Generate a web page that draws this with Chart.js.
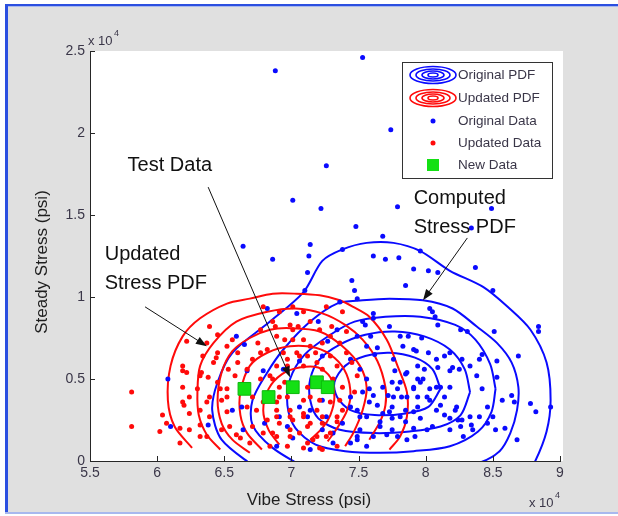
<!DOCTYPE html>
<html>
<head>
<meta charset="utf-8">
<title>Vibe vs Steady Stress</title>
<script src="https://cdn.jsdelivr.net/npm/chart.js@4.4.1/dist/chart.umd.min.js"></script>
<style>
	html, body { margin: 0; padding: 0; background: #ffffff; }
	canvas { display: block; }
</style>
</head>
<body>
<canvas id="stressChart" width="618" height="516"></canvas>
<script>
// both axes are in units of 1e4 psi
const xTicks = [5.5, 6, 6.5, 7, 7.5, 8, 8.5, 9];
const yTicks = [0, 0.5, 1, 1.5, 2, 2.5];

// [vibe, steady]
const originalData = [
	[6.88,2.38],[7.53,2.46],[7.74,2.02],[7.26,1.80],[7.97,1.74],[7.01,1.59],[7.22,1.54],[7.79,1.55],
	[8.49,1.54],[7.48,1.43],[7.68,1.37],[8.34,1.42],[6.64,1.31],[7.14,1.32],[6.86,1.23],[7.13,1.25],
	[7.12,1.15],[7.38,1.29],[7.61,1.25],[7.70,1.23],[7.80,1.24],[7.96,1.28],[7.91,1.17],[8.02,1.16],
	[8.09,1.15],[8.37,1.18],[7.45,1.10],[7.47,1.04],[7.85,1.07],[7.10,1.04],[7.49,0.99],[8.50,1.04],
	[7.36,0.97],[6.82,0.93],[7.20,0.85],[7.04,0.90],
	[8.03,0.93],[8.07,0.88],[8.09,0.83],[8.26,0.80],[8.31,0.79],[8.51,0.79],[8.84,0.82],[8.84,0.79],
	[7.61,0.87],[7.55,0.83],[7.73,0.82],[7.81,0.76],[7.87,0.76],[7.97,0.75],[7.59,0.76],[7.83,0.70],
	[7.93,0.67],[8.02,0.66],[8.14,0.64],[8.27,0.62],[8.42,0.65],[8.69,0.64],[8.53,0.61],[8.33,0.58],
	[8.38,0.52],[8.53,0.51],[8.42,0.44],[8.25,0.56],[8.18,0.55],[7.94,0.58],[7.99,0.56],[7.76,0.62],
	[7.62,0.65],[7.64,0.69],[8.57,0.37],[8.64,0.40],[8.66,0.36],[8.78,0.35],[8.82,0.30],[8.93,0.33],
	[8.50,0.27],[8.46,0.23],[8.34,0.22],[8.35,0.19],[8.52,0.19],[8.59,0.20],[8.68,0.13],[8.24,0.25],
	[8.22,0.31],[8.11,0.34],[8.03,0.37],[7.94,0.39],[7.91,0.45],[7.91,0.20],[8.01,0.19],[7.92,0.15],
	[7.86,0.13],[7.75,0.19],[7.66,0.24],[7.56,0.27],[7.73,0.30],[7.81,0.27],[7.82,0.39],[7.76,0.39],
	[7.75,0.48],[7.81,0.48],[7.68,0.45],[7.61,0.40],[7.53,0.42],[7.58,0.36],[7.64,0.34],[7.86,0.54],
	[7.98,0.50],[8.03,0.44],[8.01,0.39],[8.08,0.45],[8.14,0.39],[7.44,0.39],[7.44,0.33],[7.51,0.19],
	[7.38,0.23],[7.49,0.15],[7.61,0.15],[7.44,0.11],[7.71,0.16],[7.79,0.44],[7.91,0.44],[7.96,0.48],
	[7.85,0.53],[7.77,0.55],[7.68,0.29],[7.91,0.30],[8.14,0.28],[8.26,0.21],[8.33,0.27],[8.11,0.45],
	[8.20,0.57],[8.08,0.62],
	[7.61,0.90],[8.05,0.91],[7.91,0.68],[8.18,0.66],[8.40,0.62],[8.09,0.57],[7.94,0.50],[7.72,0.40],
	[7.86,0.39],[8.18,0.45],[7.75,0.33],[7.85,0.31],[7.94,0.33],[8.08,0.31],[8.23,0.33],[8.18,0.26],
	[8.27,0.25],[7.75,0.26],[7.85,0.24],[7.96,0.26],[7.66,0.21],[8.05,0.21],[8.18,0.19],[7.79,0.15],
	[8.28,0.15],[8.40,0.27],[8.46,0.33],
	[6.59,0.76],[6.65,0.71],[6.08,0.50],[6.10,0.21],[6.38,0.22],[6.56,0.31],[6.64,0.19],[6.80,0.23],
	[6.91,0.27],[6.97,0.21],[7.01,0.14],[7.14,0.07],[7.23,0.19],[7.31,0.11],[6.79,0.55],[6.94,0.56],
	[7.06,0.61],[7.23,0.64],[7.34,0.80],[7.27,0.73],[7.53,0.85],[7.49,0.76],[7.56,0.70],[7.44,0.62],
	[7.51,0.56],[7.56,0.50],[7.58,0.44],[7.49,0.31],[7.51,0.27],[7.31,0.17],[7.14,0.31],[7.12,0.27],
	[7.06,0.33],[7.23,0.37],[7.26,0.27],[6.89,0.09],[7.49,0.13],[7.56,0.09],[6.67,0.55],[6.63,0.33]
];

const updatedData = [
	[5.81,0.42],[5.81,0.21],[6.02,0.18],[6.04,0.28],[6.07,0.23],[6.22,0.54],[6.24,0.39],[6.24,0.29],
	[6.20,0.34],[6.34,0.64],[6.45,0.77],[6.44,0.63],[6.38,0.51],[6.37,0.36],[6.39,0.27],[6.48,0.37],
	[6.52,0.30],[6.54,0.21],[6.48,0.19],[6.62,0.14],[6.52,0.70],[6.56,0.74],[6.60,0.66],[6.53,0.56],
	[6.58,0.52],[6.67,0.56],[6.71,0.62],[6.77,0.66],[6.75,0.72],[6.77,0.80],[6.88,0.82],[6.95,0.74],
	[7.01,0.80],[7.05,0.82],[7.09,0.74],[7.14,0.70],[7.23,0.72],[7.29,0.76],[6.97,0.62],[7.04,0.66],
	[7.12,0.64],[7.19,0.60],[7.23,0.56],[6.89,0.58],[6.84,0.52],[6.77,0.50],[6.71,0.39],[6.67,0.33],
	[6.74,0.31],[6.79,0.36],[6.89,0.36],[6.97,0.39],[7.09,0.37],[7.14,0.39],[7.21,0.37],[7.29,0.36],
	[6.91,0.45],[6.89,0.27],[6.99,0.27],[7.09,0.27],[7.14,0.23],[7.23,0.27],[7.34,0.27],[6.99,0.19],
	[7.06,0.17],[7.19,0.15],[7.29,0.17],[6.89,0.15],[6.79,0.17],[6.71,0.21],[6.69,0.11],[6.84,0.09],
	[6.97,0.09],[7.12,0.11],[7.23,0.07],[7.34,0.09],[6.52,0.44],[6.45,0.48],[6.42,0.60],[6.33,0.54],
	[6.30,0.44],[6.32,0.15],[6.37,0.15],[6.17,0.11],[6.24,0.19],[6.19,0.45],[6.39,0.82],[6.22,0.73],
	[6.37,0.72],[6.45,0.66],[6.60,0.60],[6.19,0.55],[6.32,0.52],[6.47,0.44],[6.39,0.39],[6.19,0.36],
	[6.32,0.31],[6.17,0.20],[6.32,0.22],[6.59,0.16],[6.79,0.94],[6.91,0.91],[7.01,0.94],[7.09,0.91],
	[7.26,0.94],[7.38,0.91],[6.86,0.85],[6.99,0.83],[7.14,0.85],[7.21,0.80],[7.30,0.82],[7.41,0.79],
	[6.89,0.76],[7.01,0.74],[7.36,0.72],[6.82,0.68],[6.94,0.66],[7.18,0.66],[7.29,0.64],[7.41,0.66],
	[6.97,0.58],[7.34,0.58],[7.45,0.60],[6.86,0.50],[7.12,0.45],[7.31,0.50],[7.38,0.45],[7.49,0.52],
	[6.91,0.39],[7.36,0.37],[7.47,0.42],[6.89,0.31],[6.99,0.31],[7.19,0.31],[7.38,0.31],[6.82,0.25],
	[6.91,0.23],[7.12,0.21],[6.86,0.17],[7.16,0.13],[7.09,0.08],
	[7.06,0.64],[7.09,0.58],[6.95,0.48],[7.01,0.25],[7.09,0.29],[7.23,0.23],[6.99,0.15],[7.26,0.15],
	[7.21,0.08],[7.34,0.24],[6.19,0.58],[6.52,0.39]
];

const newData = [[6.65,0.44],[6.83,0.39],[7.01,0.45],[7.19,0.48],[7.27,0.45]];

// contour levels of the computed (original) stress PDF, outermost first
const originalPdf = [
	[[6.73,-0.04],[6.48,0.13],[6.41,0.31],[6.45,0.48],[6.56,0.66],[6.84,0.85],[7.09,1.03],[7.23,1.22],
	 [7.38,1.29],[7.56,1.33],[7.76,1.33],[7.96,1.28],[8.18,1.16],[8.43,1.06],[8.61,0.94],[8.78,0.80],
	 [8.90,0.60],[8.93,0.37],[8.90,0.18],[8.81,-0.01],[8.74,-0.09]],
	[[7.14,-0.06],[6.86,0.08],[6.71,0.22],[6.71,0.37],[6.82,0.54],[6.94,0.68],[7.14,0.85],[7.34,0.96],
	 [7.53,0.98],[7.73,0.99],[7.98,0.98],[8.20,0.93],[8.38,0.82],[8.53,0.72],[8.64,0.60],[8.69,0.45],
	 [8.68,0.31],[8.63,0.17],[8.55,0.06],[8.40,-0.01],[8.18,-0.04]],
	[[8.52,0.44],[8.48,0.59],[8.37,0.74],[8.22,0.83],[7.96,0.88],[7.70,0.88],[7.47,0.85],[7.29,0.77],
	 [7.10,0.65],[6.99,0.50],[6.97,0.34],[7.03,0.20],[7.18,0.10],[7.40,0.06],[7.66,0.05],[7.91,0.06],
	 [8.18,0.09],[8.39,0.18],[8.49,0.30],[8.52,0.44]],
	[[8.33,0.42],[8.29,0.56],[8.18,0.68],[7.99,0.76],[7.77,0.79],[7.55,0.77],[7.36,0.71],[7.21,0.62],
	 [7.14,0.50],[7.14,0.37],[7.20,0.26],[7.36,0.19],[7.62,0.17],[7.88,0.18],[8.11,0.21],[8.26,0.28],
	 [8.33,0.42]],
	[[8.11,0.44],[8.05,0.56],[7.92,0.63],[7.73,0.66],[7.55,0.64],[7.40,0.58],[7.32,0.48],[7.34,0.39],
	 [7.44,0.31],[7.62,0.28],[7.85,0.29],[8.02,0.33],[8.11,0.44]]
];

// contour levels of the updated stress PDF, outermost first
const updatedPdf = [
	[[6.26,0.08],[6.13,0.21],[6.08,0.37],[6.10,0.58],[6.19,0.76],[6.32,0.87],[6.52,0.96],[6.69,0.99],
	 [6.86,1.02],[7.04,1.02],[7.21,1.01],[7.36,0.98],[7.46,0.94],[7.58,0.88],[7.71,0.74],[7.79,0.58],
	 [7.86,0.42],[7.86,0.27],[7.81,0.15],[7.73,0.07]],
	[[6.47,0.07],[6.37,0.16],[6.31,0.28],[6.30,0.42],[6.32,0.58],[6.42,0.72],[6.59,0.85],[6.82,0.91],
	 [7.03,0.93],[7.23,0.90],[7.40,0.83],[7.53,0.74],[7.64,0.61],[7.70,0.45],[7.70,0.34],[7.66,0.24],
	 [7.58,0.13]],
	[[6.69,0.05],[6.56,0.13],[6.48,0.23],[6.45,0.37],[6.48,0.54],[6.56,0.67],[6.69,0.75],[6.84,0.80],
	 [6.99,0.81],[7.21,0.79],[7.38,0.70],[7.51,0.58],[7.56,0.45],[7.53,0.31],[7.46,0.17],[7.40,0.09]],
	[[6.78,0.07],[6.67,0.17],[6.62,0.28],[6.62,0.42],[6.69,0.58],[6.82,0.66],[6.99,0.70],[7.18,0.69],
	 [7.32,0.63],[7.41,0.53],[7.44,0.40],[7.41,0.30],[7.34,0.20],[7.27,0.12]],
	[[6.91,0.10],[6.83,0.19],[6.79,0.31],[6.83,0.44],[6.93,0.53],[7.06,0.57],[7.20,0.57],[7.29,0.51],
	 [7.32,0.39],[7.29,0.28],[7.23,0.20],[7.14,0.13]]
];

// text callouts: text anchor, arrow tail and arrow tip, in axis units
const callouts = [
	{ lines: ["Test Data"], at: [5.78, 1.80], from: [6.38, 1.67], to: [6.99, 0.51] },
	{ lines: ["Updated", "Stress PDF"], at: [5.61, 1.26], from: [5.91, 0.94], to: [6.37, 0.70] },
	{ lines: ["Computed", "Stress PDF"], at: [7.91, 1.60], from: [8.31, 1.36], to: [7.98, 0.98] }
];

const BLUE = "#0a0aff";
const RED = "#ff0a0a";
const GREEN = "#14e014";
const FONT = "'Liberation Sans', Arial, Helvetica, sans-serif";
const LABEL_COLOR = "#3a3648";
const DOT = 2.5;

const toPoints = list => list.map(([x, y]) => ({ x: x, y: y }));

const datasets = [];
datasets.push({
	label: "New Data", data: toPoints(newData), pointStyle: "rect", pointRadius: 9,
	backgroundColor: GREEN, borderColor: "#0cb80c", borderWidth: 1, order: 0
});
datasets.push({
	label: "Updated Data", data: toPoints(updatedData), pointRadius: DOT,
	backgroundColor: RED, borderWidth: 0, order: 1
});
datasets.push({
	label: "Original Data", data: toPoints(originalData), pointRadius: DOT,
	backgroundColor: BLUE, borderWidth: 0, order: 2
});
for(let level of updatedPdf)
	datasets.push({
		label: "Updated PDF", data: toPoints(level), showLine: true, pointRadius: 0,
		borderColor: RED, borderWidth: 2, tension: 0.3, clip: 0, order: 3
	});
for(let level of originalPdf)
	datasets.push({
		label: "Original PDF", data: toPoints(level), showLine: true, pointRadius: 0,
		borderColor: BLUE, borderWidth: 2, tension: 0.3, clip: 0, order: 4
	});

const legendItems = [
	{ text: "Original PDF", kind: "pdf", color: BLUE },
	{ text: "Updated PDF", kind: "pdf", color: RED },
	{ text: "Original Data", kind: "dot", color: BLUE },
	{ text: "Updated Data", kind: "dot", color: RED },
	{ text: "New Data", kind: "square", color: GREEN }
];

function drawArrow(ctx, x0, y0, x1, y1)
{
	const a = Math.atan2(y1 - y0, x1 - x0);
	const len = 11, half = 4;
	ctx.beginPath();
	ctx.moveTo(x0, y0);
	ctx.lineTo(x1 - Math.cos(a) * len * 0.7, y1 - Math.sin(a) * len * 0.7);
	ctx.stroke();
	ctx.beginPath();
	ctx.moveTo(x1, y1);
	ctx.lineTo(x1 - len * Math.cos(a) + half * Math.sin(a), y1 - len * Math.sin(a) - half * Math.cos(a));
	ctx.lineTo(x1 - len * Math.cos(a) - half * Math.sin(a), y1 - len * Math.sin(a) + half * Math.cos(a));
	ctx.closePath();
	ctx.fill();
}

// grey figure window with its blue frame, white axes box
const figurePlugin = {
	id: "figure",
	beforeDraw(chart)
	{
		const ctx = chart.ctx, w = chart.width, h = chart.height, ca = chart.chartArea;
		ctx.save();
		ctx.fillStyle = "#ffffff";
		ctx.fillRect(0, 0, w, h);
		ctx.fillStyle = "#e0e0e0";
		ctx.fillRect(6, 6, w - 6, 507);
		ctx.fillStyle = "#2b4fe0";
		ctx.fillRect(5, 4, w - 5, 2);
		ctx.fillRect(5, 4, 3, 510);
		ctx.fillStyle = "#a8b8ee";
		ctx.fillRect(8, 6, w - 8, 1);
		ctx.fillRect(5, 512, w - 5, 2);
		ctx.fillStyle = "#ffffff";
		ctx.fillRect(ca.left, ca.top, ca.right - ca.left + 3, ca.bottom - ca.top);
		ctx.restore();
	},
	afterDraw(chart)
	{
		const ctx = chart.ctx, ca = chart.chartArea;
		const xs = chart.scales.x, ys = chart.scales.y;
		ctx.save();

		// inward tick marks
		ctx.strokeStyle = "#262626";
		ctx.lineWidth = 1;
		ctx.beginPath();
		for(let v of xTicks)
		{
			const px = Math.round(xs.getPixelForValue(v)) + 0.5;
			ctx.moveTo(px, ca.bottom);
			ctx.lineTo(px, ca.bottom - 5);
		}
		for(let v of yTicks)
		{
			const py = Math.round(ys.getPixelForValue(v)) + 0.5;
			ctx.moveTo(ca.left, py);
			ctx.lineTo(ca.left + 5, py);
		}
		ctx.stroke();

		// exponent labels
		ctx.fillStyle = LABEL_COLOR;
		ctx.textBaseline = "middle";
		ctx.textAlign = "left";
		ctx.font = "13px " + FONT;
		ctx.fillText("x 10", ca.left - 2, ca.top - 10);
		ctx.fillText("x 10", ca.right - 31, ca.bottom + 42);
		ctx.font = "9px " + FONT;
		ctx.fillText("4", ca.left + 24, ca.top - 17);
		ctx.fillText("4", ca.right - 5, ca.bottom + 35);

		// axis titles
		ctx.fillStyle = "#1e1e1e";
		ctx.font = "17px " + FONT;
		ctx.textAlign = "center";
		ctx.fillText("Vibe Stress (psi)", 309, ca.bottom + 39);
		ctx.save();
		ctx.translate(42, 262);
		ctx.rotate(-Math.PI / 2);
		ctx.fillText("Steady Stress (psi)", 0, 0);
		ctx.restore();

		// legend
		const bw = 150, bh = 116;
		const bx = ca.right - 8 - bw, by = ca.top + 11;
		ctx.fillStyle = "#ffffff";
		ctx.fillRect(bx, by, bw, bh);
		ctx.strokeStyle = "#333333";
		ctx.strokeRect(bx + 0.5, by + 0.5, bw, bh);
		const rowY = [13, 36, 59, 81, 103];
		ctx.font = "13.5px " + FONT;
		ctx.textAlign = "left";
		legendItems.forEach((item, i) =>
		{
			const cx = bx + 31, cy = by + rowY[i];
			if(item.kind == "pdf")
			{
				ctx.strokeStyle = item.color;
				ctx.lineWidth = 1.6;
				for(let [rx, ry] of [[23, 8.5], [17, 6], [11, 4], [5, 2]])
				{
					ctx.beginPath();
					ctx.ellipse(cx, cy, rx, ry, 0, 0, Math.PI * 2);
					ctx.stroke();
				}
			}
			else if(item.kind == "dot")
			{
				ctx.fillStyle = item.color;
				ctx.beginPath();
				ctx.arc(cx, cy, DOT, 0, Math.PI * 2);
				ctx.fill();
			}
			else
			{
				ctx.fillStyle = item.color;
				ctx.fillRect(cx - 6, cy - 6, 12, 12);
			}
			ctx.fillStyle = LABEL_COLOR;
			ctx.fillText(item.text, bx + 56, cy);
		});
		ctx.restore();
	},
	afterDatasetsDraw(chart)
	{
		const ctx = chart.ctx;
		const xs = chart.scales.x, ys = chart.scales.y;
		ctx.save();
		ctx.fillStyle = "#111111";
		ctx.strokeStyle = "#111111";
		ctx.lineWidth = 1;
		ctx.font = "20px " + FONT;
		ctx.textAlign = "left";
		ctx.textBaseline = "middle";
		for(let c of callouts)
		{
			const tx = xs.getPixelForValue(c.at[0]), ty = ys.getPixelForValue(c.at[1]);
			c.lines.forEach((line, i) => ctx.fillText(line, tx, ty + i * 29));
			drawArrow(ctx,
				xs.getPixelForValue(c.from[0]), ys.getPixelForValue(c.from[1]),
				xs.getPixelForValue(c.to[0]), ys.getPixelForValue(c.to[1]));
		}
		ctx.restore();
	}
};

const axisCommon = {
	type: "linear",
	grid: { display: false, drawTicks: false },
	border: { display: true, color: "#262626", width: 1 }
};

new Chart(document.getElementById("stressChart").getContext("2d"),
{
	type: "scatter",
	data: { datasets: datasets },
	plugins: [figurePlugin],
	options:
	{
		responsive: false,
		animation: false,
		events: [],
		layout: { padding: { left: 0, top: 51, right: 58, bottom: 0 } },
		plugins:
		{
			legend: { display: false },
			tooltip: { enabled: false }
		},
		scales:
		{
			x: Object.assign({}, axisCommon,
			{
				position: "bottom", min: 5.5, max: 9,
				afterFit: scale => { scale.height = 55; },
				afterBuildTicks: scale => { scale.ticks = xTicks.map(v => ({ value: v })); },
				ticks: { font: { family: FONT, size: 14 }, color: LABEL_COLOR, padding: 4, maxRotation: 0, autoSkip: false, callback: v => String(v) }
			}),
			y: Object.assign({}, axisCommon,
			{
				position: "left", min: 0, max: 2.5,
				afterFit: scale => { scale.width = 90; },
				afterBuildTicks: scale => { scale.ticks = yTicks.map(v => ({ value: v })); },
				ticks: { font: { family: FONT, size: 14 }, color: LABEL_COLOR, padding: 5, autoSkip: false, callback: v => String(v) }
			})
		}
	}
});
</script>
</body>
</html>
